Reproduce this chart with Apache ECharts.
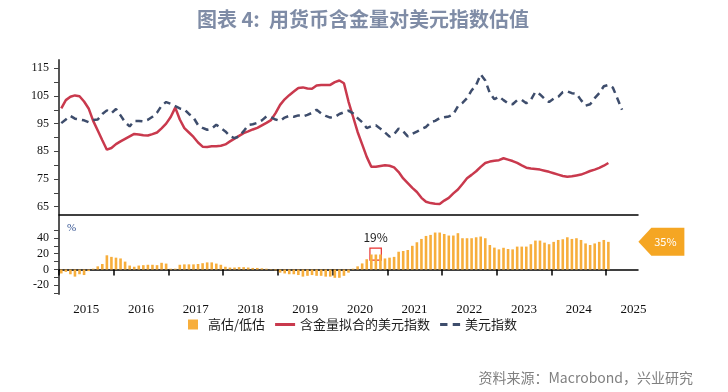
<!DOCTYPE html>
<html><head><meta charset="utf-8">
<script src="https://cdn.jsdelivr.net/npm/echarts@6/dist/echarts.min.js"></script>
<style>html,body{margin:0;padding:0;background:#fff}#c{width:728px;height:392px}</style>
</head><body><div id="c"></div>
<script>
// monthly data, first month = 2015-01
const startYear = 2015;
const yearLabels = ['2015','2016','2017','2018','2019','2020','2021','2022','2023','2024','2025'];
const seriesNames = ['高估/低估', '含金量拟合的美元指数', '美元指数'];

// 含金量拟合的美元指数 (2015-01 .. 2025-01)
const goldFitIndex = [
  100.5,103.5,104.7,105.2,104.9,103.0,100.5,96.0,92.5,89.0,85.6,86.2,
  87.6,88.6,89.5,90.4,91.3,91.1,90.8,90.7,91.2,91.8,93.3,95.0,
  97.4,100.8,96.5,93.4,91.8,90.2,88.2,86.7,86.6,86.8,86.8,87.0,
  87.5,88.6,89.6,90.6,91.6,92.2,92.9,93.5,94.4,95.3,96.3,98.8,
  101.8,103.8,105.3,106.6,107.9,108.1,107.7,107.6,108.8,109.0,109.0,109.0,
  110.0,110.6,109.6,103.0,97.5,92.0,87.5,83.0,79.4,79.4,79.7,80.0,
  79.8,79.2,77.5,75.2,73.5,71.8,70.3,68.2,66.8,66.3,66.1,66.0,
  67.2,68.2,69.8,71.2,73.2,75.3,76.5,77.8,79.4,80.8,81.3,81.6,
  81.8,82.5,82.0,81.5,80.8,79.9,79.1,78.8,78.6,78.4,78.0,77.6,
  77.1,76.6,76.1,75.8,76.0,76.3,76.6,77.2,77.9,78.4,79.0,79.8,
  80.8
];

// 美元指数 (2015-01 .. 2025-04)
const dollarIndex = [
  95.2,96.5,97.8,96.8,96.5,96.2,95.5,96.3,96.5,98.5,99.8,98.8,
  100.3,98.0,95.5,94.0,96.0,96.0,95.8,96.4,97.5,99.0,101.5,102.8,
  102.2,101.3,100.5,100.2,98.5,97.2,94.5,93.5,92.8,93.2,94.6,93.4,
  92.2,90.5,89.8,90.4,92.3,94.5,94.8,95.3,96.2,97.6,97.3,96.5,
  96.0,97.2,97.8,97.5,98.0,97.6,98.2,98.9,100.0,98.7,97.8,97.2,
  97.4,98.5,99.1,99.7,98.7,97.0,95.5,93.4,94.1,94.4,93.2,91.8,
  90.3,91.2,93.2,92.2,90.4,91.3,92.1,93.1,93.8,95.5,96.0,97.0,
  97.3,97.6,98.4,101.3,102.5,104.2,107.0,109.0,112.8,110.6,106.0,103.8,
  104.8,103.5,102.3,102.0,103.5,103.6,102.4,103.6,106.5,105.6,104.0,102.8,
  104.0,104.7,106.4,106.7,106.0,105.8,103.5,101.5,102.0,104.2,106.0,108.5,
  109.0,108.0,104.0,100.0
];

// 高估/低估 (%) (2015-01 .. 2025-01)
const valuationGap = [
  -5,-3,-6,-9,-6,-7,-2,1,4,7,18,16,
  15,14,10,5,3.5,5,5.5,6,6,5.5,8.5,7.5,
  1,1,6,6.5,6.5,6.5,7,8,9,9,7.5,6,
  3.5,2.5,2.5,3,3,2.5,2,2,1.5,1,0.5,-1,
  -4,-5,-6,-6,-7,-9,-8,-7,-8,-8,-9,-9,
  -10.5,-10.5,-8,-4,1,4,7.7,13,19,19,19,14,
  15,16,22.5,23.4,24.7,30,34.5,38.7,42.5,43.8,46.8,46.8,
  45,43,43,46,39.6,39.6,39.6,40.8,41.7,39.6,31,27.7,
  25.5,27.5,26,25.5,29,29,29,32,36.6,36.6,34,32,
  35,37.4,38.3,40.8,38.7,39.6,37.4,33,31,33,35,37.4,
  35
];

// annotation: highlighted month (index) and its label
const highlightIndex = 68; // 2020-09
const highlightLabel = '19%';

const toPts = arr => arr.map((v, i) => [i + 0.5, v]);
const yearTicks = yearLabels.map((_, i) => i * 12);
const yearLabelPos = yearLabels.map((_, i) => i * 12 + 6);
const lastIdx = valuationGap.length - 1;
const lastVal = valuationGap[lastIdx];

const serif = 'Liberation Serif';
const cjk = 'Noto Sans CJK SC';
const xMin = 0, xMax = 127;

const chart = echarts.init(document.getElementById('c'));
chart.setOption({
  animation: false,
  backgroundColor: '#fff',
  title: [
    { text: '图表 4:  用货币含金量对美元指数估值', left: 192, top: 4,
      textStyle: { fontSize: 20, fontWeight: 'bold', color: '#7F8CA6', fontFamily: cjk } },
    { text: '%', left: 62, top: 218,
      textStyle: { fontSize: 11, fontWeight: 'normal', color: '#2F4F8F', fontFamily: serif } },
    { text: '资料来源：Macrobond，兴业研究', right: 30, top: 366,
      textStyle: { fontSize: 14, fontWeight: 'normal', color: '#808080', fontFamily: cjk } }
  ],
  legend: {
    top: 313, left: 183, itemWidth: 20, itemHeight: 10, itemGap: 10,
    data: [
      { name: seriesNames[0], icon: 'path://M0,0L10,0L10,10L0,10Z' },
      { name: seriesNames[1], icon: 'path://M0,0L20,0L20,3L0,3Z' },
      { name: seriesNames[2], icon: 'path://M0,0L7,0L7,3L0,3Z M12,0L19,0L19,3L12,3Z' }
    ],
    textStyle: { fontSize: 13, color: '#222', fontFamily: cjk }
  },
  grid: [
    { left: 59, right: 90, top: 60, height: 155 },
    { left: 59, right: 90, top: 215, height: 79 }
  ],
  xAxis: [
    { type: 'value', gridIndex: 0, min: xMin, max: xMax,
      axisLine: { show: true, lineStyle: { color: '#000', width: 1.5 } },
      axisTick: { show: false }, axisLabel: { show: false }, splitLine: { show: false } },
    { type: 'value', gridIndex: 1, min: xMin, max: xMax,
      axisLine: { show: true, lineStyle: { color: '#000', width: 1.5 } },
      axisTick: { show: true, customValues: yearTicks, length: 6, lineStyle: { color: '#000', width: 1.5 } },
      axisLabel: { customValues: yearLabelPos, margin: 9,
        formatter: v => yearLabels[Math.round((v - 6) / 12)],
        fontSize: 13, color: '#111', fontFamily: serif },
      splitLine: { show: false } }
  ],
  yAxis: [
    { type: 'value', gridIndex: 0, min: 62, max: 118,
      axisLine: { show: true, lineStyle: { color: '#555', width: 2 } },
      axisTick: { show: true, customValues: [65,70,75,80,85,90,95,100,105,110,115], length: 5, lineStyle: { color: '#444' } },
      axisLabel: { customValues: [65,75,85,95,105,115], margin: 10, fontSize: 12, color: '#111', fontFamily: serif },
      splitLine: { show: false } },
    { type: 'value', gridIndex: 1, min: -31, max: 69,
      axisLine: { show: true, lineStyle: { color: '#555', width: 2 } },
      axisTick: { show: true, customValues: [-30,-20,-10,0,10,20,30,40,50], length: 5, lineStyle: { color: '#444' } },
      axisLabel: { customValues: [-20,0,20,40], margin: 10, fontSize: 12, color: '#111', fontFamily: serif },
      splitLine: { show: false } }
  ],
  series: [
    { name: seriesNames[0], type: 'bar', xAxisIndex: 1, yAxisIndex: 1,
      data: toPts(valuationGap), barWidth: 2.6,
      itemStyle: { color: '#F7AE3C' },
      markArea: {
        silent: true,
        itemStyle: { color: 'rgba(0,0,0,0)', borderColor: '#E8312F', borderWidth: 1.2 },
        label: { show: true, position: 'top', distance: 4, formatter: highlightLabel,
          fontSize: 12, color: '#222', fontFamily: cjk },
        data: [[
          { xAxis: highlightIndex + 0.2, yAxis: valuationGap[highlightIndex] - 7 },
          { xAxis: highlightIndex + 2.7, yAxis: valuationGap[highlightIndex] + 8 }
        ]]
      },
      markPoint: {
        silent: true,
        data: [{
          coord: [lastIdx + 0.5, lastVal],
          symbol: 'path://M0,14L13,0L46,0L46,28L13,28Z',
          symbolSize: [46, 28], symbolOffset: [53, 0],
          itemStyle: { color: '#F5A623' },
          label: { show: true, formatter: Math.round(lastVal) + '%', color: '#fff', fontSize: 11,
            offset: [4, 0], fontFamily: cjk }
        }]
      }
    },
    { name: seriesNames[1], type: 'line', xAxisIndex: 0, yAxisIndex: 0,
      data: toPts(goldFitIndex), symbol: 'none', smooth: false,
      lineStyle: { color: '#C9394D', width: 2.5 }, itemStyle: { color: '#C9394D' } },
    { name: seriesNames[2], type: 'line', xAxisIndex: 0, yAxisIndex: 0,
      data: toPts(dollarIndex), symbol: 'none',
      lineStyle: { color: '#3E4D6C', width: 2.5, type: [7, 5] }, itemStyle: { color: '#3E4D6C' } }
  ]
});
</script>
</body></html>
